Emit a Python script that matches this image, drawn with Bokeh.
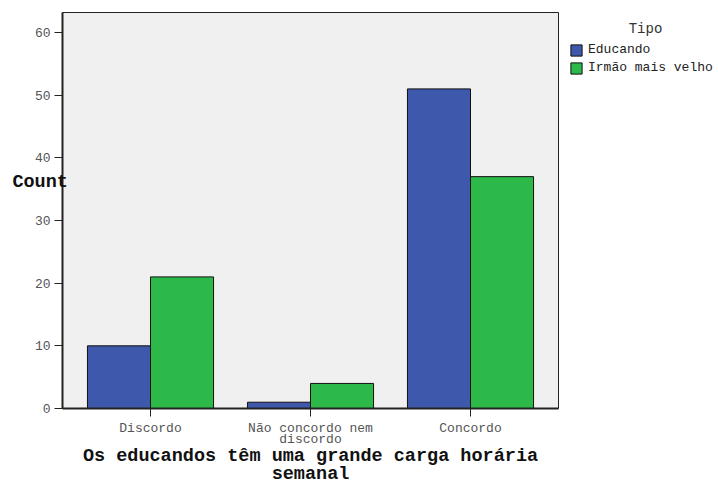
from bokeh.plotting import figure
from bokeh.models import (FactorRange, Range1d, FixedTicker, Legend, LegendItem,
                          ColumnDataSource, Label)
from bokeh.layouts import row
from bokeh.transform import dodge
from bokeh.embed import file_html
from bokeh.resources import INLINE

# ---- data ----
categories = ["Discordo", "Não concordo nem\ndiscordo", "Concordo"]
series_names = ["Educando", "Irmão mais velho"]
educando = [10, 1, 51]
irmao = [21, 4, 37]
y_ticks = [0, 10, 20, 30, 40, 50, 60]

x_title = "Os educandos têm uma grande carga horária\nsemanal"
y_title = "Count\n"
legend_title = "Tipo"

BLUE = "#3e58ac"
GREEN = "#2db84a"
MONO = "Liberation Mono"

src = ColumnDataSource(dict(cat=categories, edu=educando, irm=irmao))
xr = FactorRange(factors=categories, range_padding=0.1 / 3)

p = figure(
    x_range=xr, y_range=Range1d(0, 63.19),
    width=560, height=487,
    output_backend="svg", toolbar_location=None,
    min_border_left=62, min_border_right=2, min_border_top=12, min_border_bottom=79,
)
p.background_fill_color = "#f0f0f0"
p.border_fill_color = "white"
p.outline_line_color = "#222222"
p.outline_line_width = 1
p.xgrid.grid_line_color = None
p.ygrid.grid_line_color = None

bar_kw = dict(width=0.394, source=src, line_color="#111111", line_width=1)
r1 = p.vbar(x=dodge("cat", -0.197, range=xr), top="edu", fill_color=BLUE, **bar_kw)
r2 = p.vbar(x=dodge("cat", 0.197, range=xr), top="irm", fill_color=GREEN, **bar_kw)

for ax in (p.xaxis[0], p.yaxis[0]):
    ax.axis_line_width = 2
    ax.axis_line_color = "#222222"
    ax.major_tick_in = 0
    ax.major_tick_out = 8
    ax.major_tick_line_color = "#222222"
    ax.minor_tick_line_color = None
    ax.major_label_text_font = MONO
    ax.major_label_text_font_size = "13px"
    ax.major_label_text_color = "#555555"
    ax.major_label_standoff = 4
    ax.axis_label_text_font = MONO
    ax.axis_label_text_font_size = "18.5px"
    ax.axis_label_text_font_style = "bold"
    ax.axis_label_text_color = "#111111"

p.yaxis.ticker = FixedTicker(ticks=y_ticks)
p.xaxis.major_label_text_line_height = 0.77
p.xaxis.axis_label = x_title
p.xaxis.axis_label_text_line_height = 0.85
p.xaxis.axis_label_standoff = -4

p.yaxis.axis_label = y_title
p.yaxis.axis_label_orientation = "horizontal"
p.yaxis.axis_label_standoff = -36
p.yaxis.axis_label_text_line_height = 2.63

# ---- legend panel (a second figure to the right of the chart) ----
lg = figure(x_range=xr, y_range=Range1d(0, 63.19), width=158, height=487,
            output_backend="svg", toolbar_location=None, min_border=0)
lg.axis.visible = False
lg.grid.grid_line_color = None
lg.outline_line_color = None
lg.background_fill_color = "white"
l1 = lg.vbar(x=dodge("cat", -0.197, range=xr), top="edu", fill_color=BLUE,
             visible=False, **bar_kw)
l2 = lg.vbar(x=dodge("cat", 0.197, range=xr), top="irm", fill_color=GREEN,
             visible=False, **bar_kw)

legend = Legend(items=[LegendItem(label=series_names[0], renderers=[l1]),
                       LegendItem(label=series_names[1], renderers=[l2])],
                location=(9, 333), orientation="vertical")
legend.glyph_width = 14
legend.glyph_height = 14
legend.label_height = 14
legend.spacing = 3
legend.padding = 0
legend.margin = 0
legend.label_standoff = 5
legend.label_text_font = MONO
legend.label_text_font_size = "13px"
legend.label_text_color = "#222222"
legend.border_line_color = None
legend.background_fill_alpha = 0
legend.inactive_fill_alpha = 0
lg.add_layout(legend, "center")
lg.add_layout(Label(x=85, y=380, x_units="screen", y_units="screen", text=legend_title,
                    text_font=MONO, text_font_size="14px", text_color="#333333",
                    text_align="center", text_baseline="middle"))

layout = row(p, lg, spacing=0)
open("out.html", "w").write(file_html(layout, INLINE))
